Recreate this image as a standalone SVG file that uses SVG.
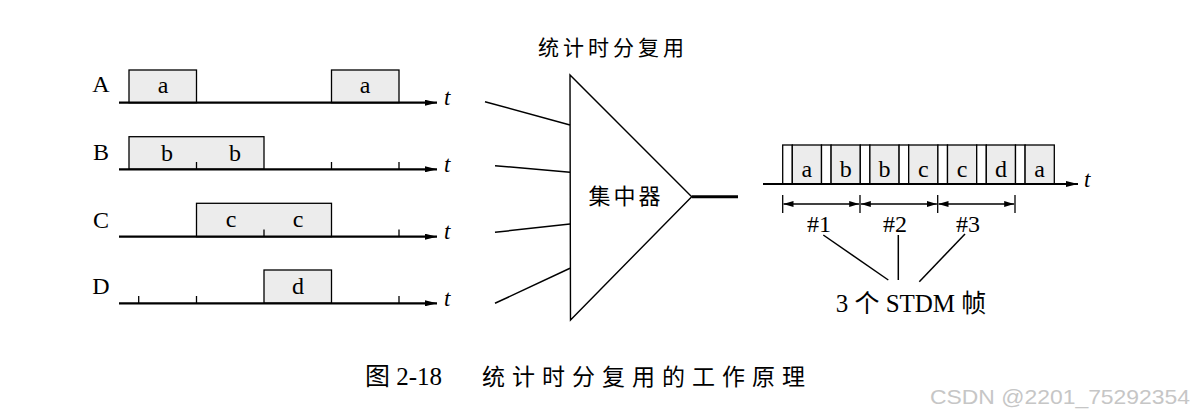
<svg xmlns="http://www.w3.org/2000/svg" width="1197" height="416" viewBox="0 0 1197 416">
<defs>
<marker id="arr" viewBox="0 0 12 6" refX="12" refY="3" markerWidth="12" markerHeight="6" markerUnits="userSpaceOnUse" orient="auto-start-reverse">
<path d="M0,0 L12,3 L0,6 Z" fill="#000"/>
</marker>
<marker id="darr" viewBox="0 0 10 6" refX="10" refY="3" markerWidth="10" markerHeight="6" markerUnits="userSpaceOnUse" orient="auto-start-reverse">
<path d="M0,0 L10,3 L0,6 Z" fill="#000"/>
</marker>
</defs>
<style>
.ax{stroke:#000;stroke-width:2.2;fill:none}
.tk{stroke:#000;stroke-width:1.3}
.bx{fill:#ececec;stroke:#000;stroke-width:1.3}
.hd{fill:#fff;stroke:#000;stroke-width:1.3}
.ln{stroke:#000;stroke-width:1.5;fill:none}
.lbl{font-family:"Liberation Serif",serif;font-size:24px;fill:#000}
.let{font-family:"Liberation Serif",serif;font-size:24px;fill:#000;text-anchor:middle}
.t{font-family:"Liberation Serif",serif;font-size:23px;font-style:italic;fill:#000}
.cjk{font-family:"Liberation Serif","Noto Sans CJK SC",sans-serif;fill:#000}
</style>
<rect width="1197" height="416" fill="#fff"/>

<g id="title"><text class="cjk" x="613" y="55" font-size="21" letter-spacing="4" text-anchor="middle">统计时分复用</text></g>

<g id="lineA">
<text class="lbl" x="101" y="92" text-anchor="middle">A</text>
<rect class="bx" x="129" y="70" width="67.5" height="32.7"/>
<rect class="bx" x="331.5" y="70" width="67.5" height="32.7"/>
<text class="let" x="163" y="93">a</text>
<text class="let" x="365" y="93">a</text>
<line class="ax" x1="119" y1="102.7" x2="437" y2="102.7" marker-end="url(#arr)"/>
<text class="t" x="444" y="105">t</text>
</g>

<g id="lineB">
<text class="lbl" x="101" y="160" text-anchor="middle">B</text>
<rect class="bx" x="129" y="136.7" width="135" height="32.6"/>
<line class="tk" x1="196.5" y1="169.3" x2="196.5" y2="162"/>
<line class="tk" x1="331.5" y1="169.3" x2="331.5" y2="162"/>
<line class="tk" x1="399" y1="169.3" x2="399" y2="162"/>
<text class="let" x="167" y="161">b</text>
<text class="let" x="235" y="161">b</text>
<line class="ax" x1="119" y1="169.3" x2="437" y2="169.3" marker-end="url(#arr)"/>
<text class="t" x="444" y="172">t</text>
</g>

<g id="lineC">
<text class="lbl" x="101" y="228" text-anchor="middle">C</text>
<rect class="bx" x="196.5" y="203.3" width="135" height="33.4"/>
<line class="tk" x1="264" y1="236.7" x2="264" y2="229.5"/>
<line class="tk" x1="399" y1="236.7" x2="399" y2="229.5"/>
<text class="let" x="231" y="227">c</text>
<text class="let" x="298" y="227">c</text>
<line class="ax" x1="119" y1="236.7" x2="437" y2="236.7" marker-end="url(#arr)"/>
<text class="t" x="444" y="239">t</text>
</g>

<g id="lineD">
<text class="lbl" x="101" y="294" text-anchor="middle">D</text>
<rect class="bx" x="264" y="270" width="67.5" height="33.3"/>
<line class="tk" x1="138.7" y1="303.3" x2="138.7" y2="296"/>
<line class="tk" x1="196.5" y1="303.3" x2="196.5" y2="296"/>
<line class="tk" x1="399" y1="303.3" x2="399" y2="296"/>
<text class="let" x="298" y="294">d</text>
<line class="ax" x1="119" y1="303.3" x2="437" y2="303.3" marker-end="url(#arr)"/>
<text class="t" x="444" y="306">t</text>
</g>

<g id="concentrator">
<polygon points="570,75 570.5,320 691.7,196.7" fill="#fff" stroke="#000" stroke-width="1.4"/>
<text class="cjk" x="626" y="204" font-size="22" letter-spacing="3" text-anchor="middle">集中器</text>
</g>

<g id="connectors">
<line class="ln" x1="485" y1="101.7" x2="570" y2="125"/>
<line class="ln" x1="495" y1="165.7" x2="570" y2="172.3"/>
<line class="ln" x1="495" y1="232.3" x2="570" y2="224"/>
<line class="ln" x1="495" y1="303.3" x2="570" y2="268.3"/>
<line x1="691.7" y1="196.7" x2="738" y2="196.7" stroke="#000" stroke-width="3"/>
<line class="ln" x1="823.3" y1="235" x2="888.3" y2="280"/>
<line class="ln" x1="898.3" y1="235" x2="898.3" y2="280"/>
<line class="ln" x1="965" y1="234" x2="919.3" y2="281.7"/>
</g>

<g id="stdm">
<rect class="hd" x="782.7" y="145" width="9.6" height="39"/>
<rect class="bx" x="792.3" y="145" width="29.2" height="39"/>
<rect class="hd" x="821.5" y="145" width="9.6" height="39"/>
<rect class="bx" x="831.1" y="145" width="29.2" height="39"/>
<rect class="hd" x="860.3" y="145" width="9.6" height="39"/>
<rect class="bx" x="869.9" y="145" width="29.2" height="39"/>
<rect class="hd" x="899.1" y="145" width="9.6" height="39"/>
<rect class="bx" x="908.7" y="145" width="29.2" height="39"/>
<rect class="hd" x="937.9" y="145" width="9.6" height="39"/>
<rect class="bx" x="947.5" y="145" width="29.2" height="39"/>
<rect class="hd" x="976.7" y="145" width="9.6" height="39"/>
<rect class="bx" x="986.3" y="145" width="29.2" height="39"/>
<rect class="hd" x="1015.5" y="145" width="9.6" height="39"/>
<rect class="bx" x="1025.1" y="145" width="29.2" height="39"/>
<text class="let" x="806.9" y="177">a</text>
<text class="let" x="845.7" y="177">b</text>
<text class="let" x="884.5" y="177">b</text>
<text class="let" x="923.3" y="177">c</text>
<text class="let" x="962.1" y="177">c</text>
<text class="let" x="1000.9" y="177">d</text>
<text class="let" x="1039.7" y="177">a</text>
<line class="ax" x1="763" y1="184" x2="1078" y2="184" marker-end="url(#arr)"/>
<text class="t" x="1084" y="187">t</text>
</g>

<g id="frames">
<line class="tk" x1="782.7" y1="195" x2="782.7" y2="213"/>
<line class="tk" x1="860" y1="195" x2="860" y2="213"/>
<line class="tk" x1="937.7" y1="195" x2="937.7" y2="213"/>
<line class="tk" x1="1015" y1="195" x2="1015" y2="213"/>
<line class="ln" x1="783.5" y1="204" x2="859.2" y2="204" marker-start="url(#darr)" marker-end="url(#darr)"/>
<line class="ln" x1="860.8" y1="204" x2="936.9" y2="204" marker-start="url(#darr)" marker-end="url(#darr)"/>
<line class="ln" x1="938.5" y1="204" x2="1014.2" y2="204" marker-start="url(#darr)" marker-end="url(#darr)"/>
<text class="let" x="819" y="232">#1</text>
<text class="let" x="895" y="232">#2</text>
<text class="let" x="968" y="232">#3</text>
<text class="cjk" x="911" y="312" font-size="25" text-anchor="middle">3 个 STDM 帧</text>
</g>

<g id="caption">
<text class="cjk" x="365" y="385" font-size="25">图 2-18</text>
<text class="cjk" x="482" y="385" font-size="23" letter-spacing="7">统计时分复用的工作原理</text>
</g>
<text x="930" y="404" font-family="'Liberation Sans',sans-serif" font-size="21" fill="#c6c6c6" textLength="260" lengthAdjust="spacingAndGlyphs">CSDN @2201_75292354</text>
</svg>
